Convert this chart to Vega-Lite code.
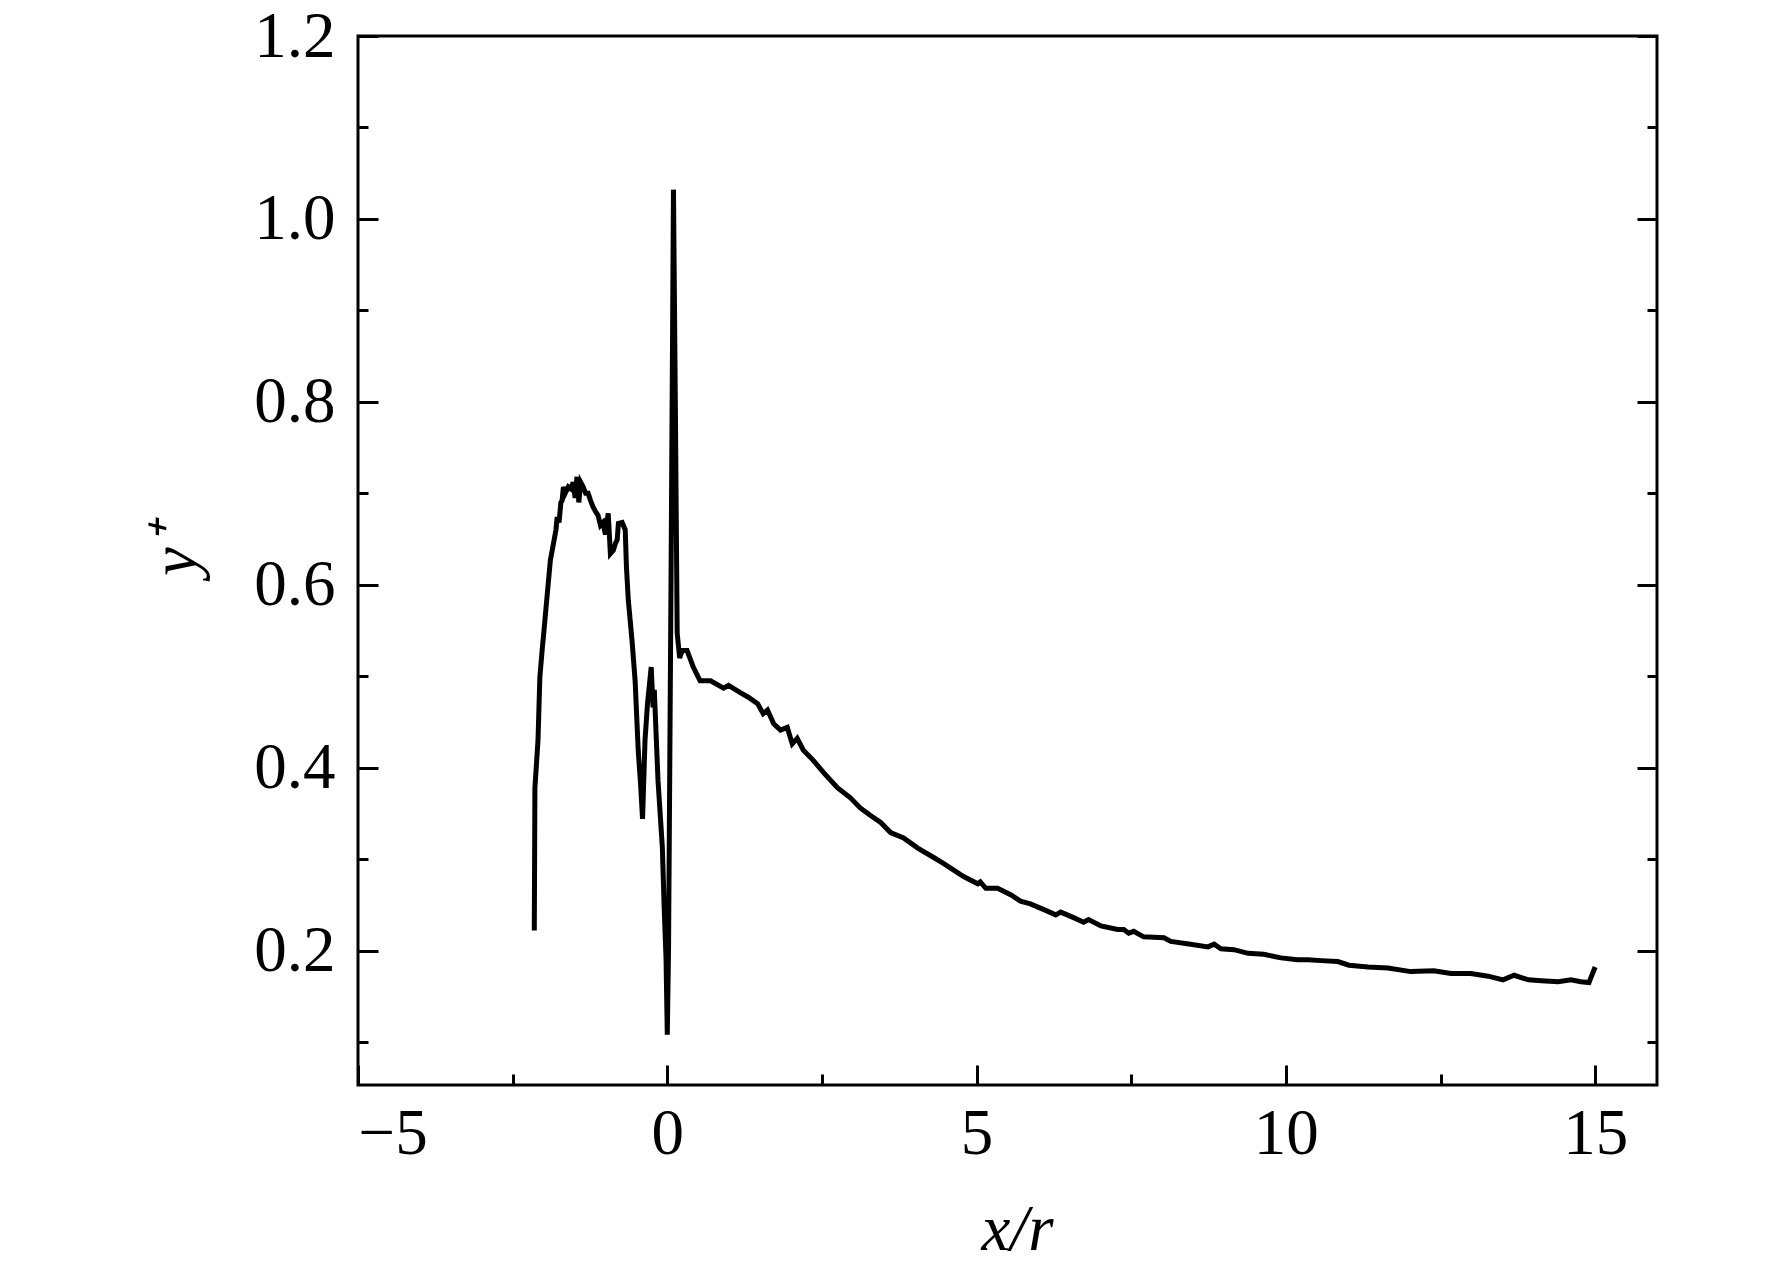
{
  "$schema": "https://vega.github.io/schema/vega-lite/v6.json",
  "width": 1299,
  "height": 1049,
  "autosize": "none",
  "padding": {"left": 358, "top": 36, "right": 115, "bottom": 188},
  "background": "white",
  "data": {
    "values": [
      {"x": -2.15, "y": 0.222}, {"x": -2.14, "y": 0.378}, {"x": -2.09, "y": 0.43}, {"x": -2.06, "y": 0.499},
      {"x": -2.02, "y": 0.531}, {"x": -2.0, "y": 0.545}, {"x": -1.94, "y": 0.59}, {"x": -1.89, "y": 0.627},
      {"x": -1.84, "y": 0.645}, {"x": -1.8, "y": 0.66}, {"x": -1.78, "y": 0.674}, {"x": -1.75, "y": 0.668},
      {"x": -1.72, "y": 0.69}, {"x": -1.7, "y": 0.692}, {"x": -1.68, "y": 0.707}, {"x": -1.65, "y": 0.7},
      {"x": -1.6, "y": 0.707}, {"x": -1.56, "y": 0.705}, {"x": -1.52, "y": 0.712}, {"x": -1.49, "y": 0.695},
      {"x": -1.46, "y": 0.718}, {"x": -1.43, "y": 0.69}, {"x": -1.4, "y": 0.712}, {"x": -1.36, "y": 0.707},
      {"x": -1.32, "y": 0.7}, {"x": -1.28, "y": 0.7}, {"x": -1.24, "y": 0.692}, {"x": -1.2, "y": 0.685},
      {"x": -1.16, "y": 0.68}, {"x": -1.12, "y": 0.676}, {"x": -1.08, "y": 0.665}, {"x": -1.04, "y": 0.668},
      {"x": -1.0, "y": 0.655}, {"x": -0.955, "y": 0.678}, {"x": -0.92, "y": 0.634}, {"x": -0.87, "y": 0.638},
      {"x": -0.84, "y": 0.645}, {"x": -0.81, "y": 0.649}, {"x": -0.79, "y": 0.667}, {"x": -0.73, "y": 0.668},
      {"x": -0.68, "y": 0.66}, {"x": -0.66, "y": 0.619}, {"x": -0.63, "y": 0.583}, {"x": -0.57, "y": 0.539},
      {"x": -0.52, "y": 0.495}, {"x": -0.47, "y": 0.419}, {"x": -0.43, "y": 0.38}, {"x": -0.4, "y": 0.344},
      {"x": -0.36, "y": 0.43}, {"x": -0.32, "y": 0.47}, {"x": -0.26, "y": 0.51}, {"x": -0.23, "y": 0.466},
      {"x": -0.21, "y": 0.485}, {"x": -0.19, "y": 0.452}, {"x": -0.15, "y": 0.386}, {"x": -0.08, "y": 0.313},
      {"x": -0.05, "y": 0.247}, {"x": -0.02, "y": 0.191}, {"x": 0.0, "y": 0.108}, {"x": 0.02, "y": 0.2},
      {"x": 0.06, "y": 0.6}, {"x": 0.1, "y": 1.032}, {"x": 0.13, "y": 0.8}, {"x": 0.16, "y": 0.547},
      {"x": 0.2, "y": 0.52}, {"x": 0.24, "y": 0.528}, {"x": 0.32, "y": 0.528}, {"x": 0.42, "y": 0.51},
      {"x": 0.53, "y": 0.495}, {"x": 0.7, "y": 0.495}, {"x": 0.91, "y": 0.487}, {"x": 0.99, "y": 0.49},
      {"x": 1.18, "y": 0.482}, {"x": 1.31, "y": 0.477}, {"x": 1.46, "y": 0.47}, {"x": 1.55, "y": 0.459},
      {"x": 1.62, "y": 0.463}, {"x": 1.72, "y": 0.448}, {"x": 1.83, "y": 0.441}, {"x": 1.94, "y": 0.444},
      {"x": 2.02, "y": 0.426}, {"x": 2.1, "y": 0.432}, {"x": 2.2, "y": 0.419}, {"x": 2.36, "y": 0.408},
      {"x": 2.52, "y": 0.395}, {"x": 2.75, "y": 0.378}, {"x": 2.96, "y": 0.367}, {"x": 3.12, "y": 0.356},
      {"x": 3.28, "y": 0.348}, {"x": 3.45, "y": 0.34}, {"x": 3.61, "y": 0.329}, {"x": 3.82, "y": 0.323},
      {"x": 4.05, "y": 0.312}, {"x": 4.3, "y": 0.302}, {"x": 4.47, "y": 0.295}, {"x": 4.63, "y": 0.288},
      {"x": 4.79, "y": 0.281}, {"x": 5.02, "y": 0.273}, {"x": 5.06, "y": 0.275}, {"x": 5.15, "y": 0.268},
      {"x": 5.34, "y": 0.268}, {"x": 5.55, "y": 0.261}, {"x": 5.71, "y": 0.254}, {"x": 5.87, "y": 0.251},
      {"x": 6.08, "y": 0.245}, {"x": 6.28, "y": 0.239}, {"x": 6.36, "y": 0.242}, {"x": 6.57, "y": 0.236},
      {"x": 6.73, "y": 0.231}, {"x": 6.81, "y": 0.234}, {"x": 7.01, "y": 0.227}, {"x": 7.28, "y": 0.223},
      {"x": 7.38, "y": 0.223}, {"x": 7.46, "y": 0.219}, {"x": 7.54, "y": 0.221}, {"x": 7.7, "y": 0.215},
      {"x": 8.03, "y": 0.214}, {"x": 8.14, "y": 0.21}, {"x": 8.46, "y": 0.207}, {"x": 8.74, "y": 0.204},
      {"x": 8.84, "y": 0.207}, {"x": 8.95, "y": 0.202}, {"x": 9.16, "y": 0.201}, {"x": 9.39, "y": 0.197},
      {"x": 9.64, "y": 0.196}, {"x": 9.92, "y": 0.192}, {"x": 10.19, "y": 0.19}, {"x": 10.36, "y": 0.19},
      {"x": 10.57, "y": 0.189}, {"x": 10.84, "y": 0.188}, {"x": 11.02, "y": 0.184}, {"x": 11.33, "y": 0.182},
      {"x": 11.65, "y": 0.181}, {"x": 12.02, "y": 0.177}, {"x": 12.39, "y": 0.178}, {"x": 12.67, "y": 0.175},
      {"x": 12.99, "y": 0.175}, {"x": 13.27, "y": 0.172}, {"x": 13.51, "y": 0.168}, {"x": 13.69, "y": 0.173},
      {"x": 13.92, "y": 0.168}, {"x": 14.13, "y": 0.167}, {"x": 14.4, "y": 0.166}, {"x": 14.61, "y": 0.168},
      {"x": 14.77, "y": 0.166}, {"x": 14.9, "y": 0.165}, {"x": 15.0, "y": 0.182}
    ]
  },
  "layer": [
    {
      "mark": {"type": "line", "color": "black", "strokeWidth": 5, "strokeJoin": "miter"},
      "encoding": {
        "x": {
          "field": "x", "type": "quantitative",
          "scale": {"domain": [-5, 16], "nice": false, "zero": false},
          "axis": {
            "orient": "bottom", "values": [-5, 0, 5, 10, 15], "tickSize": -20, "labelPadding": 37,
            "title": "x/r", "titleFontStyle": "italic", "titleX": 659, "titleY": 144,
            "titleAlign": "center", "titleBaseline": "middle"
          }
        },
        "y": {
          "field": "y", "type": "quantitative",
          "scale": {"domain": [0.053, 1.2], "nice": false, "zero": false},
          "axis": {
            "orient": "left", "values": [0.2, 0.4, 0.6, 0.8, 1.0, 1.2], "format": ".1f",
            "tickSize": -20, "labelPadding": 43,
            "title": "y⁺", "titleFontStyle": "italic", "titleX": -183, "titleY": 514,
            "titleAlign": "center", "titleBaseline": "middle", "titleAngle": -90
          }
        }
      }
    },
    {
      "mark": {"type": "line", "strokeOpacity": 0},
      "encoding": {
        "x": {
          "field": "x", "type": "quantitative",
          "axis": {"orient": "bottom", "values": [-2.5, 2.5, 7.5, 12.5], "tickSize": -11, "labels": false, "title": null}
        },
        "y": {
          "field": "y", "type": "quantitative",
          "axis": {"orient": "left", "values": [0.1, 0.3, 0.5, 0.7, 0.9, 1.1], "tickSize": -10, "labels": false, "title": null}
        }
      }
    },
    {
      "mark": {"type": "line", "strokeOpacity": 0},
      "encoding": {
        "x": {"field": "x", "type": "quantitative", "axis": null},
        "y": {
          "field": "y", "type": "quantitative",
          "axis": {"orient": "right", "values": [0.2, 0.4, 0.6, 0.8, 1.0, 1.2], "tickSize": -20, "labels": false, "title": null}
        }
      }
    },
    {
      "mark": {"type": "line", "strokeOpacity": 0},
      "encoding": {
        "x": {"field": "x", "type": "quantitative", "axis": null},
        "y": {
          "field": "y", "type": "quantitative",
          "axis": {"orient": "right", "values": [0.1, 0.3, 0.5, 0.7, 0.9, 1.1], "tickSize": -10, "labels": false, "title": null}
        }
      }
    }
  ],
  "resolve": {"axis": {"x": "independent", "y": "independent"}},
  "config": {
    "view": {"stroke": "black", "strokeWidth": 3},
    "font": "Liberation Serif",
    "axis": {
      "domain": false, "grid": false, "tickColor": "black", "tickWidth": 3,
      "labelFont": "Liberation Serif", "labelFontSize": 65, "labelColor": "black",
      "titleFont": "Liberation Serif", "titleFontSize": 65, "titleColor": "black", "titleFontWeight": "normal"
    }
  }
}
